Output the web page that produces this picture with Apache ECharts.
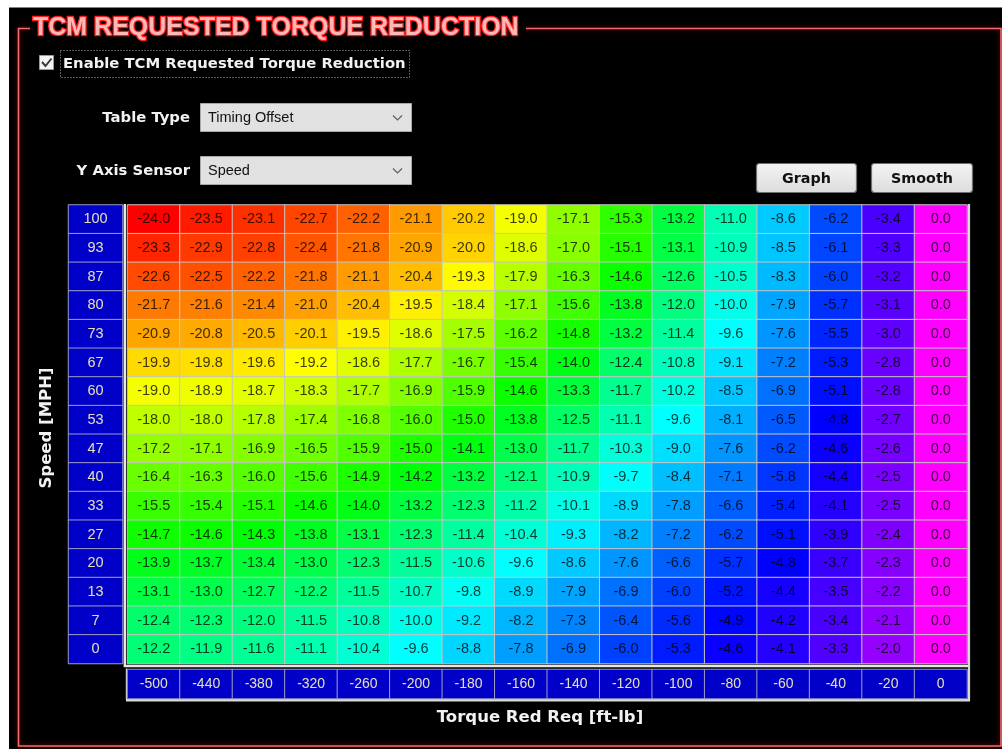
<!DOCTYPE html>
<html>
<head>
<meta charset="utf-8">
<script src="https://cdn.jsdelivr.net/npm/echarts@6/dist/echarts.min.js"></script>
<style>
html,body{margin:0;padding:0;background:#fff;}
#chart{width:1002px;height:749px;}
</style>
</head>
<body>
<div id="chart"></div>
<script>
// ---- Data ----
const speedLabels = ['100','93','87','80','73','67','60','53','47','40','33','27','20','13','7','0'];
const torqueLabels = ['-500','-440','-380','-320','-260','-200','-180','-160','-140','-120','-100','-80','-60','-40','-20','0'];

const row100 = [-24.0,-23.5,-23.1,-22.7,-22.2,-21.1,-20.2,-19.0,-17.1,-15.3,-13.2,-11.0,-8.6,-6.2,-3.4,0.0];
const row93  = [-23.3,-22.9,-22.8,-22.4,-21.8,-20.9,-20.0,-18.6,-17.0,-15.1,-13.1,-10.9,-8.5,-6.1,-3.3,0.0];
const row87  = [-22.6,-22.5,-22.2,-21.8,-21.1,-20.4,-19.3,-17.9,-16.3,-14.6,-12.6,-10.5,-8.3,-6.0,-3.2,0.0];
const row80  = [-21.7,-21.6,-21.4,-21.0,-20.4,-19.5,-18.4,-17.1,-15.6,-13.8,-12.0,-10.0,-7.9,-5.7,-3.1,0.0];
const row73  = [-20.9,-20.8,-20.5,-20.1,-19.5,-18.6,-17.5,-16.2,-14.8,-13.2,-11.4,-9.6,-7.6,-5.5,-3.0,0.0];
const row67  = [-19.9,-19.8,-19.6,-19.2,-18.6,-17.7,-16.7,-15.4,-14.0,-12.4,-10.8,-9.1,-7.2,-5.3,-2.8,0.0];
const row60  = [-19.0,-18.9,-18.7,-18.3,-17.7,-16.9,-15.9,-14.6,-13.3,-11.7,-10.2,-8.5,-6.9,-5.1,-2.8,0.0];
const row53  = [-18.0,-18.0,-17.8,-17.4,-16.8,-16.0,-15.0,-13.8,-12.5,-11.1,-9.6,-8.1,-6.5,-4.8,-2.7,0.0];
const row47  = [-17.2,-17.1,-16.9,-16.5,-15.9,-15.0,-14.1,-13.0,-11.7,-10.3,-9.0,-7.6,-6.2,-4.6,-2.6,0.0];
const row40  = [-16.4,-16.3,-16.0,-15.6,-14.9,-14.2,-13.2,-12.1,-10.9,-9.7,-8.4,-7.1,-5.8,-4.4,-2.5,0.0];
const row33  = [-15.5,-15.4,-15.1,-14.6,-14.0,-13.2,-12.3,-11.2,-10.1,-8.9,-7.8,-6.6,-5.4,-4.1,-2.5,0.0];
const row27  = [-14.7,-14.6,-14.3,-13.8,-13.1,-12.3,-11.4,-10.4,-9.3,-8.2,-7.2,-6.2,-5.1,-3.9,-2.4,0.0];
const row20  = [-13.9,-13.7,-13.4,-13.0,-12.3,-11.5,-10.6,-9.6,-8.6,-7.6,-6.6,-5.7,-4.8,-3.7,-2.3,0.0];
const row13  = [-13.1,-13.0,-12.7,-12.2,-11.5,-10.7,-9.8,-8.9,-7.9,-6.9,-6.0,-5.2,-4.4,-3.5,-2.2,0.0];
const row7   = [-12.4,-12.3,-12.0,-11.5,-10.8,-10.0,-9.2,-8.2,-7.3,-6.4,-5.6,-4.9,-4.2,-3.4,-2.1,0.0];
const row0   = [-12.2,-11.9,-11.6,-11.1,-10.4,-9.6,-8.8,-7.8,-6.9,-6.0,-5.3,-4.6,-4.1,-3.3,-2.0,0.0];

const tableRows = [row100,row93,row87,row80,row73,row67,row60,row53,row47,row40,row33,row27,row20,row13,row7,row0];

// ---- Build series data ----
const cellData = [];
tableRows.forEach((r, yi) => r.forEach((v, xi) => cellData.push([xi, yi, v])));
const yLabelData = speedLabels.map((s, i) => [0, i, Number(s)]);
const xLabelData = torqueLabels.map((s, i) => [i, 0, Number(s)]);

const chart = echarts.init(document.getElementById('chart'), null, {renderer: 'canvas'});

const hiddenCat = (data, extra) => Object.assign({
  type: 'category', data: data,
  axisLine: {show: false}, axisTick: {show: false}, axisLabel: {show: false}, splitLine: {show: false}
}, extra || {});

const frameColor = '#f07070';
const frameShadow = '#b00000';
const uiBold = 'bold 14.8px "DejaVu Sans", Verdana, sans-serif';

const option = {
  backgroundColor: '#000000',
  animation: false,
  grid: [
    {left: 127.5, top: 205, width: 839.5, height: 458.5},
    {left: 68.5, top: 205, width: 54, height: 458.5},
    {left: 127.5, top: 669.5, width: 839.5, height: 29}
  ],
  xAxis: [
    hiddenCat(torqueLabels, {gridIndex: 0}),
    hiddenCat(['speed'], {gridIndex: 1}),
    hiddenCat(torqueLabels, {gridIndex: 2})
  ],
  yAxis: [
    hiddenCat(speedLabels, {gridIndex: 0, inverse: true}),
    hiddenCat(speedLabels, {gridIndex: 1, inverse: true}),
    hiddenCat(['torque'], {gridIndex: 2})
  ],
  visualMap: {
    type: 'continuous', show: false, seriesIndex: 0, dimension: 2,
    min: -24, max: 0,
    inRange: {color: ['#ff0000','#ffff00','#00ff00','#00ffff','#0000ff','#ff00ff']}
  },
  series: [
    {
      type: 'heatmap', xAxisIndex: 0, yAxisIndex: 0, data: cellData,
      itemStyle: {borderColor: '#c4c4c4', borderWidth: 1},
      label: {
        show: true, color: 'rgba(0,0,0,0.76)', fontSize: 14.5,
        fontFamily: 'Liberation Sans, Arial, sans-serif',
        formatter: p => p.data[2].toFixed(1)
      },
      emphasis: {disabled: true}
    },
    {
      type: 'heatmap', xAxisIndex: 1, yAxisIndex: 1, data: yLabelData,
      itemStyle: {color: '#0000c8', borderColor: '#9c9cc4', borderWidth: 1},
      label: {
        show: true, color: '#e4e0bc', fontSize: 14.5,
        fontFamily: 'Liberation Sans, Arial, sans-serif',
        formatter: p => speedLabels[p.data[1]]
      },
      emphasis: {disabled: true}
    },
    {
      type: 'heatmap', xAxisIndex: 2, yAxisIndex: 2, data: xLabelData,
      itemStyle: {color: '#0000c8', borderColor: '#9c9cc4', borderWidth: 1},
      label: {
        show: true, color: '#e4e0bc', fontSize: 14,
        fontFamily: 'Liberation Sans Narrow, Liberation Sans, Arial, sans-serif',
        formatter: p => torqueLabels[p.data[0]]
      },
      emphasis: {disabled: true}
    }
  ],
  graphic: [
    // white page margins
    {type: 'rect', shape: {x: 0, y: 0, width: 1002, height: 7.5}, style: {fill: '#ffffff'}, silent: true},
    {type: 'rect', shape: {x: 0, y: 0, width: 9, height: 749}, style: {fill: '#ffffff'}, silent: true},
    // red frame
    {type: 'polyline', shape: {points: [[30, 28.5], [18.5, 28.5], [18.5, 746], [1001, 746], [1001, 28.5], [526, 28.5]]},
     style: {stroke: frameColor, lineWidth: 1.6, fill: null, shadowBlur: 4, shadowColor: frameShadow}, silent: true},
    // title
    {type: 'text', x: 33, y: 28.5, silent: true,
     style: {text: 'TCM REQUESTED TORQUE REDUCTION', font: 'bold 25px "Liberation Sans", Arial, sans-serif',
             fill: '#ffb8b8', stroke: '#ff1c1c', lineWidth: 2.6, verticalAlign: 'middle', align: 'left',
             shadowBlur: 8, shadowColor: '#ff0000'}},
    // checkbox
    {type: 'rect', shape: {x: 39.5, y: 55.5, width: 14, height: 14}, style: {fill: '#f4f4f4', stroke: '#9a9a9a', lineWidth: 1}, silent: true},
    {type: 'polyline', shape: {points: [[42, 62], [45.5, 66], [51.5, 58.5]]}, style: {stroke: '#3a3a3a', lineWidth: 2, fill: null}, silent: true},
    {type: 'rect', shape: {x: 60.5, y: 50.5, width: 349, height: 27}, style: {fill: null, stroke: '#b0b0b0', lineWidth: 1, lineDash: [1, 2]}, silent: true},
    {type: 'text', x: 63, y: 64, silent: true,
     style: {text: 'Enable TCM Requested Torque Reduction', font: uiBold, fill: '#f2f2f2', verticalAlign: 'middle'}},
    // Table Type
    {type: 'text', x: 190, y: 118, silent: true,
     style: {text: 'Table Type', font: uiBold, fill: '#f2f2f2', align: 'right', verticalAlign: 'middle'}},
    {type: 'rect', shape: {x: 200.5, y: 103.5, width: 211, height: 28}, style: {fill: '#e1e1e1', stroke: '#a8a8a8', lineWidth: 1}, silent: true},
    {type: 'text', x: 208, y: 117.5, silent: true,
     style: {text: 'Timing Offset', font: '14.5px "Liberation Sans", Arial, sans-serif', fill: '#111', verticalAlign: 'middle'}},
    {type: 'polyline', shape: {points: [[393, 115.5], [397.5, 120], [402, 115.5]]}, style: {stroke: '#606060', lineWidth: 1.2, fill: null}, silent: true},
    // Y Axis Sensor
    {type: 'text', x: 190, y: 171, silent: true,
     style: {text: 'Y Axis Sensor', font: uiBold, fill: '#f2f2f2', align: 'right', verticalAlign: 'middle'}},
    {type: 'rect', shape: {x: 200.5, y: 156.5, width: 211, height: 28}, style: {fill: '#e1e1e1', stroke: '#a8a8a8', lineWidth: 1}, silent: true},
    {type: 'text', x: 208, y: 170.5, silent: true,
     style: {text: 'Speed', font: '14.5px "Liberation Sans", Arial, sans-serif', fill: '#111', verticalAlign: 'middle'}},
    {type: 'polyline', shape: {points: [[393, 168.5], [397.5, 173], [402, 168.5]]}, style: {stroke: '#606060', lineWidth: 1.2, fill: null}, silent: true},
    // buttons
    {type: 'rect', shape: {x: 756.5, y: 163.5, width: 100, height: 29, r: 3}, silent: true,
     style: {fill: new echarts.graphic.LinearGradient(0, 0, 0, 1, [{offset: 0, color: '#f4f4f4'}, {offset: 1, color: '#dcdcdc'}]), stroke: '#6e6e6e', lineWidth: 1.2}},
    {type: 'text', x: 806.5, y: 179, silent: true,
     style: {text: 'Graph', font: 'bold 14.3px "DejaVu Sans", Verdana, sans-serif', fill: '#111', align: 'center', verticalAlign: 'middle'}},
    {type: 'rect', shape: {x: 871.5, y: 163.5, width: 101, height: 29, r: 3}, silent: true,
     style: {fill: new echarts.graphic.LinearGradient(0, 0, 0, 1, [{offset: 0, color: '#f4f4f4'}, {offset: 1, color: '#dcdcdc'}]), stroke: '#6e6e6e', lineWidth: 1.2}},
    {type: 'text', x: 922, y: 179, silent: true,
     style: {text: 'Smooth', font: 'bold 14.3px "DejaVu Sans", Verdana, sans-serif', fill: '#111', align: 'center', verticalAlign: 'middle'}},
    // table frame highlights
    {type: 'line', shape: {x1: 124.8, y1: 204, x2: 124.8, y2: 667}, style: {stroke: '#e6e6e6', lineWidth: 2.4}, silent: true},
    {type: 'line', shape: {x1: 124, y1: 666, x2: 970, y2: 666}, style: {stroke: '#e6e6e6', lineWidth: 2.4}, silent: true},
    {type: 'line', shape: {x1: 969, y1: 204, x2: 969, y2: 701}, style: {stroke: '#d8d8d8', lineWidth: 2.2}, silent: true},
    {type: 'line', shape: {x1: 126, y1: 700.2, x2: 970, y2: 700.2}, style: {stroke: '#d8d8d8', lineWidth: 2.4}, silent: true},
    {type: 'line', shape: {x1: 126.5, y1: 668.5, x2: 126.5, y2: 700}, style: {stroke: '#d8d8d8', lineWidth: 1.4}, silent: true},
    // axis titles
    {type: 'text', x: 540, y: 718, silent: true,
     style: {text: 'Torque Red Req [ft-lb]', font: 'bold 16.5px "DejaVu Sans", Verdana, sans-serif', fill: '#f2f2f2', align: 'center', verticalAlign: 'middle'}},
    {type: 'text', x: 47, y: 428, rotation: Math.PI / 2, silent: true,
     style: {text: 'Speed [MPH]', font: 'bold 16.5px "DejaVu Sans", Verdana, sans-serif', fill: '#f2f2f2', align: 'center', verticalAlign: 'middle'}}
  ]
};

chart.setOption(option);
</script>
</body>
</html>
